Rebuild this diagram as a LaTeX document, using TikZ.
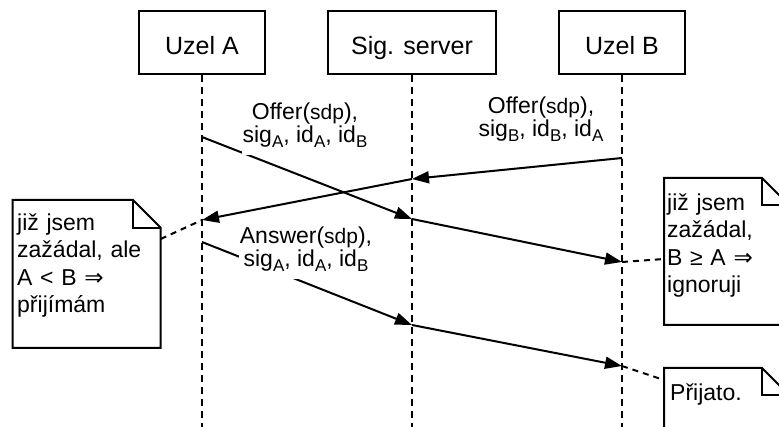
\documentclass[tikz,border=0pt]{standalone}
\usepackage{fontspec}
\setmainfont{Liberation Sans}
\newfontfamily\symfont{DejaVu Sans}
\usetikzlibrary{arrows.meta}
\newcommand\subx[1]{\raisebox{-5pt}{\fontsize{17}{17}\selectfont #1}}
\newcommand\sdpx{{\fontsize{21}{21}\selectfont sdp}}
\newcommand\impl{{\symfont ⇒}}
\tikzset{
 lw/.style={line width=2pt},
 hdr/.style={draw, lw, minimum width=126pt, minimum height=63pt, inner sep=0pt,
   text height=24pt, text depth=0pt, font=\fontsize{25}{30}\selectfont},
 life/.style={lw, dash pattern=on 7pt off 5pt},
 msg/.style={lw, -{Triangle[length=17pt,width=12pt]}},
 lbl/.style={fill=white, align=center, inner xsep=1pt, inner ysep=3pt, anchor=north,
   font=\fontsize{23}{23}\selectfont},
 notebox/.style={draw, lw, fill=white, line join=miter},
 notetxt/.style={anchor=north west, align=left, inner sep=0pt,
   font=\fontsize{23}{27.5}\selectfont},
 link/.style={lw, dash pattern=on 6pt off 5pt},
}
\begin{document}
\begin{tikzpicture}[x=1pt,y=-1pt]
\useasboundingbox (0,0) rectangle (779,427);
\clip (0,0) rectangle (779,427);
% headers
\node[hdr] (hA) at (202,42.5) {Uzel A};
\node[hdr, minimum width=168pt] (hS) at (412,42.5) {Sig. server};
\node[hdr] (hB) at (622,42.5) {Uzel B};
% lifelines
\coordinate (endA) at (202,430);
\coordinate (endS) at (412,430);
\coordinate (endB) at (622,430);
\draw[life] (hA.south) -- (endA);
\draw[life] (hS.south) -- (endS);
\draw[life] (hB.south) -- (endB);
% message points
\coordinate (a1) at (202,137);
\coordinate (s1) at (412,219);
\coordinate (b1) at (622,262);
\coordinate (b2) at (622,158);
\coordinate (s2) at (412,179);
\coordinate (a2) at (202,220);
\coordinate (a3) at (202,242);
\coordinate (s3) at (412,325);
\coordinate (b3) at (622,366);
% messages
\draw[msg] (a1) -- (s1);
\draw[msg] (s1) -- (b1);
\draw[msg] (b2) -- (s2);
\draw[msg] (s2) -- (a2);
\draw[msg] (a3) -- (s3);
\draw[msg] (s3) -- (b3);
% labels
\node[lbl] (l1) at (305,98) {\rule{0pt}{18pt}Offer(\sdpx),\\ sig\subx{A}, id\subx{A}, id\subx{B}\rule[-10pt]{0pt}{10pt}};
\node[lbl] (l2) at (541,92.3) {\rule{0pt}{18pt}Offer(\sdpx),\\ sig\subx{B}, id\subx{B}, id\subx{A}\rule[-10pt]{0pt}{10pt}};
\node[lbl] (l3) at (306,222) {\rule{0pt}{18pt}Answer(\sdpx),\\ sig\subx{A}, id\subx{A}, id\subx{B}\rule[-10pt]{0pt}{10pt}};
% left note
\draw[notebox] (12.7,200) -- (133,200) -- (160.7,227.7) -- (160.7,348) -- (12.7,348) -- cycle;
\draw[lw] (133,200) -- (133,227.7) -- (160.7,227.7);
\node[notetxt, text width=140pt] (tL) at (17,210) {\noindent\rule{0pt}{20pt}již jsem\\zažádal, ale\\A < B \impl\\přijímám};
\coordinate (nL) at (160.7,239);
\draw[link] (nL) -- (a2);
% right note 1
\draw[notebox] (664,178) -- (762,178) -- (789,205) -- (789,325) -- (664,325) -- cycle;
\draw[lw] (762,178) -- (762,205) -- (789,205);
\node[notetxt, text width=118pt] (tR1) at (667,190) {\noindent\rule{0pt}{20pt}již jsem\\zažádal,\\B ≥ A \impl\\ignoruji};
\coordinate (nR1) at (664,259);
\draw[link] (b1) -- (nR1);
% right note 2
\draw[notebox] (664,368) -- (762,368) -- (789,395) -- (789,470) -- (664,470) -- cycle;
\draw[lw] (762,368) -- (762,395) -- (789,395);
\node[notetxt, text width=118pt] (tR2) at (670,380) {\noindent\rule{0pt}{20pt}Přijato.};
\coordinate (nR2) at (664,380);
\draw[link] (b3) -- (nR2);
\end{tikzpicture}
\end{document}
